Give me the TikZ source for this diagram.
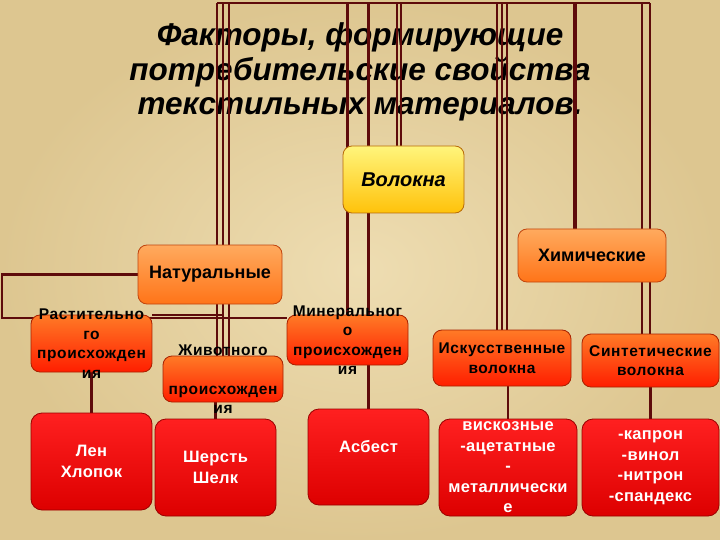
\documentclass[tikz,border=0pt]{standalone}
\usepackage{fontspec}
\setmainfont{Liberation Sans}
\usepackage{xcolor}
\usetikzlibrary{calc}

\definecolor{parchLight}{HTML}{EEDDB2}
\definecolor{parchDark}{HTML}{DDC690}
\definecolor{wire}{HTML}{5E0B0B}
\definecolor{rootTop}{HTML}{FFF57C}
\definecolor{rootBot}{HTML}{FFC20A}
\definecolor{rootLine}{HTML}{B86A08}
\definecolor{kindTop}{HTML}{FFAA5E}
\definecolor{kindBot}{HTML}{FF7418}
\definecolor{kindLine}{HTML}{C0440E}
\definecolor{origTop}{HTML}{FF7A26}
\definecolor{origBot}{HTML}{FF1E00}
\definecolor{origLine}{HTML}{A82000}
\definecolor{exTop}{HTML}{FF2020}
\definecolor{exBot}{HTML}{DD0000}
\definecolor{exLine}{HTML}{9A0000}

\pgfdeclarelayer{paper}
\pgfdeclarelayer{wires}
\pgfsetlayers{paper,wires,main}

\begin{document}
\begin{tikzpicture}[x=1pt, y=-1pt]
	\tikzstyle {Root}  = [shape=rectangle, rounded corners=9pt, draw=rootLine, thick, top color=rootTop, bottom color=rootBot, minimum width=121pt, minimum height=67pt, inner sep=0pt, font=\fontsize{20}{24}\selectfont\bfseries\itshape]
	\tikzstyle {Kind}  = [shape=rectangle, rounded corners=9pt, draw=kindLine, thick, top color=kindTop, bottom color=kindBot, minimum height=55pt, inner sep=0pt, font=\fontsize{18}{21}\selectfont\bfseries]
	\tikzstyle {Orig}  = [shape=rectangle, rounded corners=9pt, draw=origLine, thick, top color=origTop, bottom color=origBot, inner sep=0pt]
	\tikzstyle {Ex}    = [shape=rectangle, rounded corners=11pt, draw=exLine, thick, top color=exTop, bottom color=exBot, minimum height=97pt, inner sep=0pt]
	\tikzstyle {Dark}  = [align=center, inner sep=0pt, text=black, font=\fontsize{15.5}{19.5}\selectfont\bfseries\addfontfeatures{LetterSpace=4}]
	\tikzstyle {Light} = [align=center, inner sep=0pt, text=white, font=\fontsize{16.5}{20.5}\selectfont\bfseries\addfontfeatures{LetterSpace=2}]
	\tikzstyle {Wire}  = [draw=wire, line width=2.2pt]

	\useasboundingbox (0,0) rectangle (720,540);
	\begin{pgfonlayer}{paper}
		\shade[inner color=parchLight, outer color=parchDark] (0,0) rectangle (720,540);
		% title
		\node[align=center, font=\fontsize{31.5}{34.5}\selectfont\bfseries\itshape] (Title) at (360,72) {Факторы, формирующие\\потребительские свойства\\текстильных материалов.};
	\end{pgfonlayer}

	% Волокна
	\node[Root] (Root) at (403.5,179.5) {Волокна};

	% Натуральные, Химические
	\node[Kind, minimum width=144pt, minimum height=59pt] (Kind-nat) at (210,274.5) {Натуральные};
	\node[Kind, minimum width=148pt, minimum height=53pt] (Kind-chem) at (592,255.5) {Химические};

	% origin of natural fibres
	\node[Orig, minimum width=121pt, minimum height=57pt] (Orig-plant) at (91.5,343.5) {};
	\node[Orig, minimum width=120pt, minimum height=46pt] (Orig-animal) at (223,379) {};
	\node[Orig, minimum width=121pt, minimum height=50pt] (Orig-mineral) at (347.5,340) {};
	\node[Dark] (Orig-plant-t) at (Orig-plant) {Растительно\\го\\происхожден\\ия};
	\node[Dark] (Orig-animal-t) at (Orig-animal) {Животного\\\mbox{}\\происхожден\\ия};
	\node[Dark] (Orig-mineral-t) at (Orig-mineral) {Минеральног\\о\\происхожден\\ия};

	% chemical fibres
	\node[Orig, minimum width=138pt, minimum height=56pt, Dark] (Fibre-art) at (502,358) {Искусственные\\волокна};
	\node[Orig, minimum width=137pt, minimum height=53pt, Dark] (Fibre-syn) at (650.5,360.5) {Синтетические\\волокна};

	% examples
	\node[Ex, minimum width=121pt] (Ex-plant) at (91.5,461.5) {};
	\node[Ex, minimum width=121pt] (Ex-animal) at (215.5,467.5) {};
	\node[Ex, minimum width=121pt, minimum height=96pt] (Ex-mineral) at (368.5,457) {};
	\node[Ex, minimum width=138pt] (Ex-art) at (508,467.5) {};
	\node[Ex, minimum width=137pt] (Ex-syn) at (650.5,467.5) {};
	\node[Light] (Ex-plant-t) at (Ex-plant) {Лен\\Хлопок};
	\node[Light] (Ex-animal-t) at (Ex-animal) {Шерсть\\Шелк};
	\node[Light, yshift=10pt] (Ex-mineral-t) at (Ex-mineral) {Асбест};
	\node[Light] (Ex-art-t) at (Ex-art) {вискозные\\-ацетатные\\-\\металлически\\е};
	\node[Light] (Ex-syn-t) at (Ex-syn) {-капрон\\-винол\\-нитрон\\-спандекс};

	% connectors
	\coordinate (Bus-west) at (217,3);
	\coordinate (Bus-east) at (650,3);
	\coordinate (Frame) at (2,318);
	\begin{pgfonlayer}{wires}
		\draw[Wire] (Bus-west) -- (Bus-east);
		\foreach \d in {-6,0,6}
			\draw[Wire] ($(Orig-animal.north)+(\d,0)$) -- ($(Orig-animal.north |- Bus-west)+(\d,0)$);
		\draw[Wire] (Orig-mineral.north) -- (Orig-mineral.north |- Bus-west);
		\draw[Wire] (Ex-mineral.north) -- (Ex-mineral.north |- Bus-west);
		\foreach \d in {-6.5,-2.5}
			\draw[Wire] ($(Root.north)+(\d,0)$) -- ($(Root.north |- Bus-west)+(\d,0)$);
		\foreach \d in {-5,0,5}
			\draw[Wire] ($(Fibre-art.north)+(\d,0)$) -- ($(Fibre-art.north |- Bus-west)+(\d,0)$);
		\draw[Wire, line width=4.5pt] ($(Kind-chem.north)+(-17,0)$) -- ($(Kind-chem.north |- Bus-west)+(-17,0)$);
		\foreach \d in {-8.5,-0.5}
			\draw[Wire] ($(Fibre-syn.north)+(\d,0)$) -- ($(Fibre-syn.north |- Bus-west)+(\d,0)$);

		\draw[Wire] (Ex-plant.north) -- (Orig-plant.south);
		\draw[Wire] (Ex-animal.north) -- (Ex-animal.north |- Orig-animal.south);
		\draw[Wire] (Ex-art.north) -- (Ex-art.north |- Fibre-art.south);
		\draw[Wire] (Ex-syn.north) -- (Fibre-syn.south);

		\draw[Wire] (Kind-nat.west) -| (Frame) -- (Frame -| Orig-mineral.west);
		\draw[Wire] (Orig-plant.north east) -- (Orig-plant.north east -| Orig-animal.north);
	\end{pgfonlayer}
\end{tikzpicture}
\end{document}
